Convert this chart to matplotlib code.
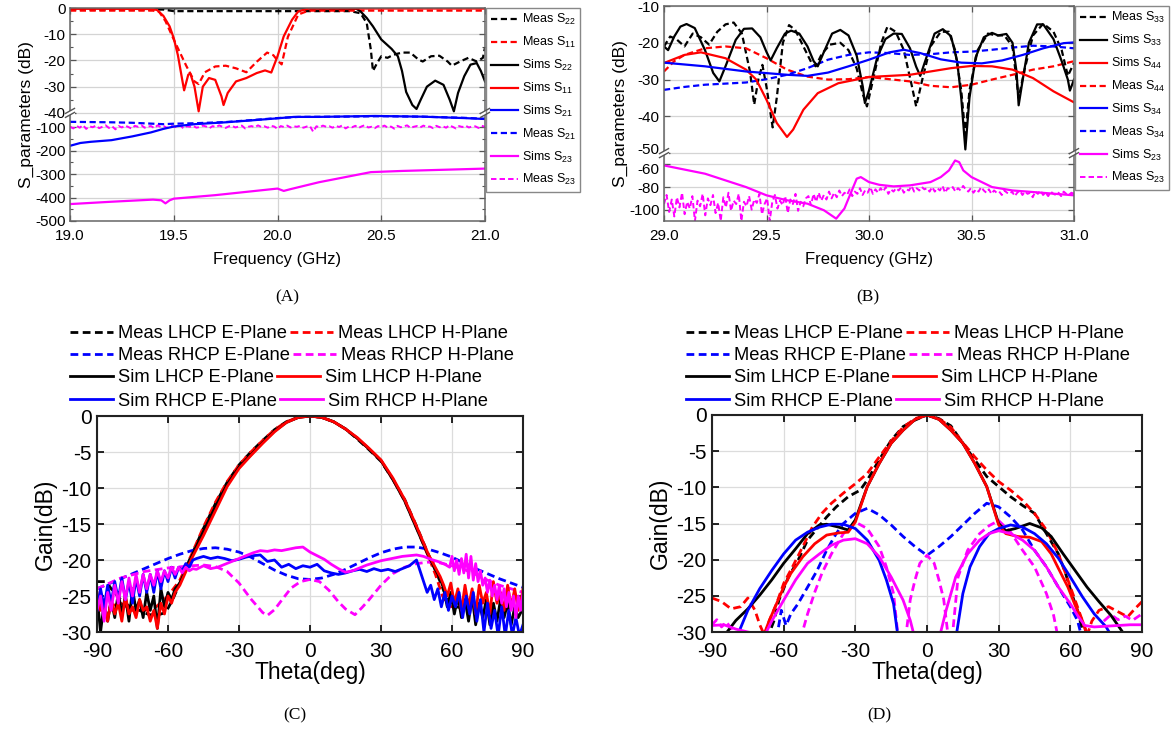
import numpy as np
import matplotlib
matplotlib.use('Agg')
import matplotlib.pyplot as plt
from matplotlib.patches import Rectangle
from matplotlib.ticker import FixedLocator, FormatStrFormatter
from matplotlib.transforms import ScaledTranslation

plt.rcParams['font.family'] = ['Liberation Sans', 'DejaVu Sans']
plt.rcParams['mathtext.fontset'] = 'custom'
plt.rcParams['mathtext.rm'] = 'Liberation Sans'
plt.rcParams['mathtext.it'] = 'Liberation Sans:italic'
plt.rcParams['mathtext.bf'] = 'Liberation Sans:bold'
plt.rcParams['axes.unicode_minus'] = False

# ---------------- Panel A data ----------------
A_XTICKS = [19.0, 19.5, 20.0, 20.5, 21.0]
A_YTICKS = [0, -10, -20, -30, -40, -100, -200, -300, -400, -500]
A_S22_MEAS_F = [19.0, 19.45, 19.5, 20.0, 20.35, 20.4, 20.43, 20.45, 20.46, 20.48, 20.5, 20.53, 20.56, 20.6,
                20.64, 20.68, 20.7, 20.74, 20.78, 20.82, 20.84, 20.88, 20.92, 20.96, 20.99, 21.0]
A_S22_MEAS = [-0.6, -0.6, -1.2, -1.2, -1.2, -2, -5.7, -16, -24, -21, -18.4, -19, -17.8, -17,
              -17, -19.7, -20.4, -18.4, -18.2, -20.4, -22, -20.4, -19, -20.4, -19, -15]
A_S11_MEAS_F = [19.0, 19.2, 19.4, 19.43, 19.46, 19.5, 19.53, 19.56, 19.6, 19.62, 19.65, 19.7, 19.75, 19.8,
                19.85, 19.9, 19.95, 19.98, 20.0, 20.02, 20.05, 20.1, 20.15, 20.5, 21.0]
A_S11_MEAS = [-1, -1, -1, -1.5, -5, -12, -17, -22, -28, -29, -24.5, -22.3, -22, -23,
              -24.5, -20.5, -17, -18, -20, -21.5, -11, -2.5, -1, -1, -1]
A_S22_SIM_F = [19.0, 19.5, 20.0, 20.38, 20.4, 20.43, 20.46, 20.5, 20.55, 20.58, 20.6, 20.62, 20.65, 20.67,
               20.69, 20.72, 20.76, 20.8, 20.83, 20.85, 20.87, 20.9, 20.93, 20.96, 20.98, 21.0]
A_S22_SIM = [-0.1, -0.1, -0.1, -0.3, -1.3, -3.8, -7, -12, -15.6, -18.4, -24, -32, -37, -38.5,
             -35, -30, -27.7, -29.3, -35, -39.4, -32.4, -26, -21.6, -21, -24, -28]
A_S11_SIM_F = [19.0, 19.2, 19.4, 19.42, 19.45, 19.48, 19.5, 19.52, 19.54, 19.55, 19.57, 19.58, 19.6, 19.62,
               19.64, 19.67, 19.7, 19.73, 19.74, 19.76, 19.8, 19.85, 19.9, 19.94, 19.97, 20.0, 20.03, 20.07,
               20.1, 20.15, 20.5, 21.0]
A_S11_SIM = [-0.3, -0.3, -0.4, -0.8, -3, -7, -11.5, -18, -27, -31.4, -25.4, -25, -30, -39.4,
             -30, -26.7, -27.4, -33.7, -37, -32.4, -28, -26.7, -24.8, -23.8, -24.6, -18.4, -10.8, -4.5,
             -1.3, -0.2, -0.2, -0.2]
A_S21_SIM_F = [19.0, 19.05, 19.1, 19.2, 19.3, 19.39, 19.45, 19.5, 19.6, 19.75, 19.9, 20.0, 20.08, 20.2,
               20.47, 20.7, 20.9, 21.0]
A_S21_SIM = [-180, -168, -163, -156, -140, -123, -108, -98, -88, -80, -70, -63, -57, -57,
             -53, -56, -62, -66]
A_S21_MEAS_F = [19.0, 19.1, 19.2, 19.3, 19.4, 19.45, 19.5, 19.6, 19.75, 19.9, 20.0, 20.1, 20.3, 20.5,
                20.7, 20.9, 21.0]
A_S21_MEAS = [-78, -79, -80, -82, -86, -88, -86, -84, -79, -69, -62, -57, -56, -54, -56, -61, -65]
A_S23_SIM_F = [19.0, 19.2, 19.4, 19.44, 19.46, 19.48, 19.5, 19.7, 20.0, 20.03, 20.06, 20.2, 20.45, 20.6, 21.0]
A_S23_SIM = [-428, -418, -409, -412, -425, -412, -405, -390, -362, -372, -365, -335, -292, -287, -277]
A_S23_MEAS = [-98, -106, -95, -103, -92, -108, -97, -101, -94, -105, -99, -93, -104, -97, -110, -96,
              -102, -94, -100, -107, -95, -99, -92, -103, -98, -96, -105, -93, -100, -97, -104, -95,
              -98, -101, -93, -106, -97, -99, -95, -103, -100, -94, -98, -105, -96, -101, -93, -99,
              -104, -97, -95, -102, -98, -94, -106, -99, -96, -101, -93, -100, -97, -103, -95, -98,
              -108, -96, -100, -94, -102, -97, -99, -95, -103, -98, -96, -120, -97, -101, -94, -99, -97,
              -103, -95, -100, -93, -106, -98, -101, -95, -104, -97, -92, -102, -99, -105, -96, -100,
              -94, -103, -98, -107, -95, -101, -97, -93, -104, -99, -96, -102, -94, -100, -98, -105,
              -95, -101, -97, -103, -93, -99, -106, -96, -100, -94, -102, -98, -97, -104, -95, -99]

# ---------------- Panel B data ----------------
B_XTICKS = [29.0, 29.5, 30.0, 30.5, 31.0]
B_YTICKS = [-10, -20, -30, -40, -50, -60, -80, -100]
B_S33_MEAS_F = [29.0, 29.03, 29.06, 29.1, 29.14, 29.18, 29.22, 29.26, 29.3, 29.34, 29.38, 29.42, 29.44, 29.46,
                29.48, 29.5, 29.53, 29.55, 29.58, 29.61, 29.64, 29.68, 29.72, 29.74, 29.77, 29.81, 29.86, 29.9,
                29.94, 29.97, 29.99, 30.02, 30.06, 30.09, 30.13, 30.17, 30.21, 30.23, 30.26, 30.3, 30.35, 30.39,
                30.42, 30.45, 30.47, 30.49, 30.53, 30.58, 30.62, 30.66, 30.7, 30.73, 30.76, 30.8, 30.85, 30.9,
                30.94, 30.97, 31.0]
B_S33_MEAS = [-21, -18.3, -19, -21, -17.5, -18.5, -20.5, -17, -15, -14.5, -17.5, -28, -36.8, -30,
              -26, -32, -43, -35, -20, -15.2, -16.5, -21, -25.5, -26.4, -23, -20.5, -20, -22,
              -27, -34, -37.3, -30, -20, -15.6, -17, -22, -32, -37.3, -30, -21, -17, -17,
              -22, -33, -45, -33, -22, -17.5, -18, -18, -21, -35, -27, -18, -14.8, -17,
              -22, -29, -25.5]
B_S33_SIM_F = [29.0, 29.02, 29.05, 29.08, 29.11, 29.15, 29.2, 29.24, 29.27, 29.3, 29.35, 29.39, 29.43, 29.47,
               29.5, 29.52, 29.55, 29.59, 29.62, 29.66, 29.7, 29.73, 29.75, 29.78, 29.82, 29.86, 29.9, 29.94,
               29.97, 29.98, 30.0, 30.04, 30.08, 30.12, 30.16, 30.2, 30.23, 30.25, 30.28, 30.32, 30.36, 30.4,
               30.43, 30.45, 30.47, 30.49, 30.52, 30.56, 30.6, 30.63, 30.67, 30.7, 30.72, 30.73, 30.75, 30.78,
               30.82, 30.85, 30.9, 30.94, 30.97, 30.98, 31.0]
B_S33_SIM = [-21, -22, -18.3, -15.6, -14.9, -16, -22, -28.2, -30.5, -26.4, -19.2, -16.2, -16.1, -18.5,
             -22.5, -24.8, -21.5, -17.5, -16.7, -17.5, -21, -25, -26.4, -22.5, -17.5, -16.5, -18, -23.5,
             -32, -36.4, -33, -24, -19, -17.5, -17.6, -21.5, -26.5, -29, -24, -17.5, -16.3, -18.2,
             -25, -35, -49, -35, -24, -18.5, -17.3, -18, -17.6, -20, -28, -37, -30, -20,
             -15, -15, -19, -25, -30, -33, -30]
B_S44_SIM_F = [29.0, 29.1, 29.18, 29.3, 29.4, 29.45, 29.5, 29.55, 29.6, 29.63, 29.68, 29.75, 29.85, 30.0,
               30.2, 30.3, 30.4, 30.5, 30.6, 30.7, 30.8, 30.9, 31.0]
B_S44_SIM = [-25.5, -23.3, -22.6, -24.2, -27.3, -30, -35.5, -41.8, -45.6, -43.6, -38.2, -33.7, -31, -29.3,
             -28.7, -27.8, -26.9, -26.3, -26.4, -27.3, -29.6, -33.2, -36.2]
B_S44_MEAS_F = [29.0, 29.05, 29.1, 29.2, 29.3, 29.4, 29.5, 29.6, 29.7, 29.8, 29.9, 30.0, 30.1, 30.2,
                30.3, 30.4, 30.5, 30.6, 30.7, 30.8, 30.9, 31.0]
B_S44_MEAS = [-27.8, -25, -23.3, -21.5, -21, -21.5, -24.2, -27.3, -29.2, -30, -29.9, -29.3, -29.9, -30.5,
              -31.7, -32.1, -31.4, -30, -28.7, -27.3, -26.4, -25]
B_S34_SIM_F = [29.0, 29.2, 29.4, 29.6, 29.7, 29.8, 29.9, 30.0, 30.1, 30.17, 30.25, 30.35, 30.45, 30.55,
               30.65, 30.75, 30.85, 30.95, 31.0]
B_S34_SIM = [-25.4, -26.4, -27.8, -28.7, -29, -28.1, -26.4, -24.6, -22.6, -21.9, -22.8, -24.5, -25.4, -25.6,
             -24.8, -23.3, -21.5, -20.1, -19.9]
B_S34_MEAS_F = [29.0, 29.1, 29.2, 29.3, 29.4, 29.5, 29.6, 29.7, 29.8, 29.9, 30.0, 30.1, 30.2, 30.3,
                30.4, 30.5, 30.6, 30.7, 30.8, 30.9, 31.0]
B_S34_MEAS = [-32.8, -32, -31.4, -31.1, -30.8, -29.9, -28.7, -26.9, -24.6, -23.3, -22.6, -22.8, -23.3, -23.1,
              -22.6, -22.4, -21.9, -21.3, -20.8, -21, -21.5]
B_S23_SIM_F = [29.0, 29.2, 29.4, 29.5, 29.6, 29.7, 29.78, 29.84, 29.88, 29.91, 29.94, 29.96, 30.0, 30.05,
               30.12, 30.2, 30.3, 30.35, 30.39, 30.41, 30.42, 30.44, 30.46, 30.5, 30.55, 30.6, 30.7, 30.8, 31.0]
B_S23_SIM = [-60.9, -68.2, -80, -87.3, -91.7, -94.7, -100.5, -107.9, -99, -85.8, -72.6, -71.2, -75.6, -78,
             -79.4, -78.5, -75.6, -71.2, -65.3, -59.4, -56.5, -58, -65.3, -71.2, -75.6, -80, -83, -84.4, -87.3]
B_S23_MEAS = [-95, -87, -102, -91, -106, -89, -98, -85, -104, -93, -99, -88, -110, -92, -97, -86, -105, -90,
              -96, -87, -103, -94, -110, -89, -98, -85, -101, -92, -95, -86, -110, -93, -97, -88, -100, -91,
              -94, -86, -104, -95, -90, -110, -93, -87, -99, -92, -96, -88, -103, -91, -95, -86, -101, -93,
              -97, -90,
              -88, -96, -86, -93, -85, -92, -87, -91, -84, -90, -85, -89, -83, -88, -85, -87, -82, -88, -84,
              -86, -81, -87, -83, -85, -80, -86, -82, -85, -81, -84, -80, -86, -82, -84, -81, -83, -80, -85,
              -82, -83, -79, -84, -81, -83, -80, -82, -81, -84,
              -80, -84, -81, -83, -79, -85, -81, -82, -80, -84, -81, -83, -79, -82, -84, -81, -85, -82, -84,
              -80, -83, -85, -82, -86, -83, -85, -84, -87, -83, -85, -86, -84, -88, -85, -83, -87, -84, -86,
              -85, -89, -84, -86, -83, -87, -85, -88, -84, -86, -87, -85, -88, -84, -86, -87, -85, -86]

# ---------------- Panel C data ----------------
TH_TICKS = [-90, -60, -30, 0, 30, 60, 90]
G_TICKS = [0, -5, -10, -15, -20, -25, -30]
C_MLE_TH = [-90, -86, -84, -80, -76, -72, -68, -64, -61, -58, -55, -52, -50, -45, -40, -35, -30, -25, -20, -15,
            -10, -5, 0, 5, 10, 15, 20, 25, 30, 35, 40, 45, 50, 55, 58, 61, 64, 66]
C_MLE = [-23, -23, -24, -25.5, -26.5, -27, -27.6, -27.6, -27.3, -25.5, -23.2, -20.8, -19.3, -15.6, -12.2, -9.2,
         -6.8, -5.0, -3.4, -1.9, -0.8, -0.2, 0, -0.2, -0.8, -1.8, -3.2, -4.7, -6.3, -8.8, -11.6, -15.3, -19.2,
         -23, -25.5, -26.5, -26.6, -26.5]
C_MLH_TH = [-90, -85, -80, -75, -70, -65, -60, -55, -50, -45, -40, -35, -30, -25, -20, -15, -10, -5,
            0, 5, 10, 15, 20, 25, 30, 35, 40, 45, 50, 53, 56, 58, 60, 62]
C_MLH = [-26, -26.5, -26, -27, -27, -26.5, -25, -22.8, -19.2, -15.4, -12.0, -9.1, -6.8, -5.0, -3.4, -1.9, -0.8,
         -0.2, 0, -0.2, -0.8, -1.8, -3.1, -4.6, -6.2, -8.8, -11.8, -15.5, -19.5, -22, -25, -26.3, -26.5, -26.2]
C_MRE_TH = np.arange(-90, 91, 5)
C_MRE = [-24.0, -23.3, -22.6, -21.9, -21.2, -20.5, -19.8, -19.2, -18.7, -18.4, -18.3, -18.5, -18.9, -19.6,
         -20.5, -21.4, -22.1, -22.6, -22.7, -22.5, -22.0, -21.3, -20.5, -19.7, -19.0, -18.5, -18.2, -18.2,
         -18.5, -19.0, -19.6, -20.4, -21.2, -21.9, -22.6, -23.2, -23.8]
C_MRH_TH = [-90, -80, -70, -60, -50, -45, -40, -35, -30, -25, -20, -18, -15, -12, -8, -4, 0, 4, 8, 12,
            15, 19, 22, 25, 30, 35, 40, 45, 50, 55, 60, 65, 70, 75, 80, 85, 90]
C_MRH = [-24, -22.5, -21.6, -21.1, -20.8, -20.7, -20.9, -21.6, -23.2, -25.4, -27.3, -27.7, -26.9, -25.6,
         -23.9, -23.0, -22.7, -23.0, -24.2, -25.8, -26.8, -27.6, -26.6, -25.5, -23.5, -21.9, -21.0, -20.5,
         -20.3, -20.4, -20.8, -21.3, -22, -22.8, -23.5, -24, -24.5]
C_SL_TH = np.r_[np.arange(-90, -56.9, 1.5), [-55], np.arange(-50, 56, 5), np.arange(56.5, 89.6, 1.5), [90]]
C_SLE = [-25, -30, -26, -28.5, -25.5, -28, -24.5, -27.5, -25, -28.5, -24, -27, -25.5, -28, -24.5, -27, -25,
         -29.5, -24, -26.5, -24.5, -25.5, -24, -23.2,
         -19.5, -16, -12.6, -9.5, -7.1, -5.4, -3.7, -2.1, -0.9, -0.2, 0, -0.2, -0.8, -1.8, -3.1, -4.6, -6.2,
         -8.8, -11.8, -15.6, -19.4, -22.6,
         -24, -26.5, -24.5, -27.5, -25, -28, -25.5, -28.5, -25, -29, -26, -28, -25.5, -29, -26, -28.5,
         -25.5, -28, -26, -29, -26.5, -28, -27, -25]
C_SLH = [-24.5, -27, -26, -28.5, -25.5, -27.5, -26, -28.5, -25, -27.5, -26.5, -28, -25.5, -27, -26.5, -28.5,
         -27, -29.5, -26, -27.5, -25, -26, -24.5, -23.5,
         -19.8, -16.6, -13.2, -9.8, -7.3, -5.5, -3.8, -2.2, -0.9, -0.2, 0, -0.2, -0.8, -1.8, -3.0, -4.5,
         -6.1, -8.6, -11.6, -15.3, -19.2, -22.3,
         -23.5, -25, -23.2, -26, -24, -27, -23.5, -26.5, -24, -27.5, -23.5, -26, -24.5, -27.5, -23, -26,
         -24.5, -27, -23.5, -26.5, -24, -27, -25, -24]
C_SRE_TH = np.r_[np.arange(-90, -47, 1.5), np.arange(-45, 46, 3), np.arange(46.5, 90.1, 1.5)]
C_SRE = [-27, -24, -26.5, -23.5, -26, -23, -25.5, -22.5, -25.5, -23, -26, -22.5, -25, -22, -24.5, -22,
         -24.5, -21.5, -24, -21.5, -23, -21, -22.5, -21, -21.5, -20.5, -21, -20, -19.8,
         -19.5, -19.8, -19.6, -19.8, -20.1, -19.9, -19.6, -19.4, -19.3, -20.2, -20.0, -21.0, -20.6, -21.2,
         -20.8, -21.0, -20.6, -21.5, -21.8, -22.0, -21.8, -21.5, -21.3, -21.6, -21.2, -21.5, -21.3, -21.6,
         -21.2, -20.8, -20.0,
         -21.5, -23, -24.5, -23.5, -25.5, -24, -26.5, -24.5, -27, -25, -26.5, -24.5, -28, -25, -27.5, -24.5,
         -28.5, -25.5, -30, -26, -29.5, -27, -30.5, -26.5, -30.5, -27, -30.5, -28, -30.5, -29]
C_SRH_TH = np.r_[np.arange(-90, -47, 1.5), np.arange(-45, 58, 3), np.arange(59, 90.1, 1)]
C_SRH = [-27, -25, -28.5, -24.5, -27, -23.5, -26, -23, -25.5, -22.5, -25, -22, -24.5, -22, -24, -22, -23.5,
         -21.5, -23, -21.5, -22.5, -21, -22, -21, -21.8, -21, -21.5, -21.2, -21.3,
         -20.8, -21.2, -21.0, -20.6, -20.2, -19.8, -19.4, -19.0, -18.7, -18.8, -18.6, -18.7, -18.5, -18.3,
         -18.2, -18.9, -19.4, -19.9, -20.6, -21.2, -21.7, -21.5, -21.1, -20.7, -20.4, -20.1, -19.9, -19.7,
         -19.5, -19.4, -19.3, -19.5, -19.9, -20.2, -20.6,
         -21.0, -19.5, -21.5, -20, -22, -19.8, -21.8, -19.2, -22.5, -19.5, -22.8, -20.5, -23, -21.5, -23.5,
         -22.5, -24.5, -22.8, -25, -23.5, -25.5, -23.5, -26, -24, -26.5, -24.5, -27, -25, -28, -25, -27, -24.5]

# ---------------- Panel D data ----------------
D_MLE_TH = [-67, -64, -62, -58, -54, -50, -46, -42, -38, -33, -28, -25, -20, -15, -10, -5, 0, 5, 10, 15,
            20, 25, 30, 35, 40, 45, 50, 55, 58, 61, 63, 66]
D_MLE = [-31, -28.4, -25.6, -22.4, -20.1, -17.3, -15.7, -14.1, -12.7, -11.3, -10.4, -9, -6.2, -3.5, -1.6,
         -0.7, 0, -0.5, -1.5, -3.9, -6.2, -8.5, -9.9, -11.3, -12.5, -13.6, -16.4, -19.2, -21.9, -25.1, -27, -31]
D_MLH_TH = [-90, -86, -82, -78, -75, -72, -70, -68, -66, -63, -60, -56, -52, -48, -44, -40, -35, -30, -25,
            -20, -15, -10, -5, 0, 5, 10, 15, 20, 25, 30, 35, 40, 45, 50, 55, 58, 62, 65, 67, 69, 72, 76, 80,
            84, 87, 90]
D_MLH = [-25.3, -25.8, -26.8, -26.5, -25.3, -27, -29, -30.5, -28.4, -26.1, -23.3, -20.8, -18.2, -15.5,
         -13.6, -12.2, -10.8, -9.5, -8.1, -5.8, -3.6, -1.7, -0.5, 0, -0.5, -1.7, -3.8, -5.8, -7.6, -9.2,
         -10.4, -11.8, -13.6, -15.9, -19.2, -21.9, -25.6, -28.4, -30.5, -28.5, -27, -26.5, -27.2, -27.9,
         -26.8, -25.8]
D_MRE_TH = [-63, -61, -59, -57, -54, -50, -46, -42, -38, -35, -30, -25, -20, -15, -10, -5, 0, 5, 10, 15,
            20, 25, 30, 35, 40, 45, 50, 55, 60, 63, 65]
D_MRE = [-31, -27, -29.1, -27.5, -26.1, -23.8, -21.5, -18.7, -16.4, -15, -13.6, -12.9, -13.8, -15.2, -16.8,
         -18.2, -19.4, -18.2, -16.8, -15.2, -13.6, -12.2, -12.7, -14.1, -15.9, -18.7, -21, -23.8, -26.5,
         -28.4, -31]
D_MRH_TH = [-90, -88, -86, -84, -82, -80, np.nan,
            -53, -50, -47, -44, -40, -35, -30, -25, -20, -17, -14, -12, np.nan,
            -9, -7, -5, -3, 0, 3, 5, 7, 9, np.nan,
            10.5, 13, 17, 22, 26, 30, 35, 40, 45, 50, 53, 55, np.nan,
            74, 77, 80, 83, 86, 90]
D_MRH = [-29, -28.3, -29.3, -28.6, -29.5, -31, np.nan,
         -31, -27.5, -24.5, -21.9, -19.2, -16.4, -14.8, -15.7, -18.2, -21, -24.7, -31, np.nan,
         -31, -25.5, -22.8, -20.5, -19.4, -20.5, -22.8, -25.5, -31, np.nan,
         -31, -22.4, -18.7, -16.4, -15.3, -14.6, -16.2, -18.7, -21, -24.7, -27.7, -31, np.nan,
         -28.5, -27.6, -28.3, -27.8, -28.4, -27.5]
D_SLE_TH = [-86, -80, -75, -70, -65, -60, -55, -50, -45, -42, -37, -33, -30, -25, -20, -15, -10, -5, 0, 5,
            10, 15, 20, 25, 30, 33, 37, 43, 48, 52, 57, 62, 67, 72, 77, 84]
D_SLE = [-31, -28.4, -26.8, -24.9, -22.8, -20.5, -18.5, -16.4, -15.2, -15.1, -15.5, -15.9, -14.5, -9.9,
         -6.7, -3.9, -2.1, -0.6, 0, -0.6, -2.1, -3.9, -6.7, -9.9, -15, -16, -15.7, -15, -15.6, -16.8, -19.2,
         -21.5, -23.8, -25.8, -27.7, -31]
D_SLH_TH = [-69, -66, -63, -60, -57, -52, -47, -42, -37, -33, -30, -25, -20, -15, -10, -5, 0, 5, 10, 15,
            20, 25, 30, 33, 38, 43, 48, 52, 55, 59, 62, 65, 68]
D_SLH = [-31, -28.4, -26.1, -23.8, -21.9, -19.6, -17.8, -16.6, -16.3, -16.2, -14.8, -9.9, -6.7, -3.9, -2.1,
         -0.6, 0, -0.6, -2.1, -3.9, -6.7, -9.9, -15.2, -16.4, -16.8, -16.9, -17.5, -19.2, -21.2, -23.8,
         -26.3, -28.4, -31]
D_SRE_TH = [-80, -75, -70, -65, -60, -55, -50, -45, -40, -35, -30, -25, -20, -17, -14, -12, np.nan,
            12, 15, 18, 22, 26, 30, 35, 40, 45, 50, 55, 60, 65, 70, 75, 78]
D_SRE = [-31, -27, -24, -21.5, -19.2, -17.3, -16.2, -15.5, -15.1, -15.1, -15.7, -17.3, -20.1, -22.8, -26.1,
         -31, np.nan,
         -31, -24.7, -21, -18.2, -16.4, -15.7, -15.2, -15.5, -16.4, -17.8, -19.8, -22.4, -25.1, -27.5,
         -29.3, -31]
D_SRH_TH = [-90, -85, -80, -75, -72, -68, -65, -60, -55, -50, -45, -40, -35, -30, -25, -20, -15, -10, -7,
            -5, np.nan,
            5, 8, 12, 17, 22, 26, 30, 35, 40, 45, 50, 55, 60, 63, 66, 70, 75, 80, 85, 90]
D_SRH = [-29.1, -29, -29.6, -30, -30.2, -30.5, -28.5, -25.6, -22.8, -20.5, -19.2, -18, -17.3, -17.1, -17.8,
         -19.6, -22.4, -25.6, -28.4, -31, np.nan,
         -31, -27, -22.4, -19.2, -17.3, -16.4, -16, -16.4, -17.3, -18.7, -21, -23.8, -26.1, -27.7, -29.1,
         -29.3, -29.2, -29.1, -29, -29]

LEG_ROWS = [["Meas LHCP E-Plane", "Meas LHCP H-Plane"],
            ["Meas RHCP E-Plane", "Meas RHCP H-Plane"],
            ["Sim LHCP E-Plane", "Sim LHCP H-Plane"],
            ["Sim RHCP E-Plane", "Sim RHCP H-Plane"]]

# ---------------- drawing ----------------
W, H = 1172, 733
fig = plt.figure(figsize=(W / 100, H / 100), dpi=100)

BLK, RED, BLU, MAG = '#000000', '#ff0000', '#0000ff', '#ff00ff'
DASH = (2.8, 1.6)


def px_axes(l, t, r, b):
    return fig.add_axes([l / W, 1 - b / H, (r - l) / W, (b - t) / H])


def pl(ax, x, y, color, dashed, lw, label=None):
    x = np.asarray(x, float)
    y = np.asarray(y, float)
    n = min(len(x), len(y))
    kw = dict(color=color, lw=lw, label=label, solid_joinstyle='round')
    if dashed:
        ln, = ax.plot(x[:n], y[:n], ls='--', dashes=DASH, **kw)
    else:
        ln, = ax.plot(x[:n], y[:n], **kw)
    return ln


def make_break_scale(brk, k):
    def fwd(y):
        y = np.asarray(y, float)
        return np.where(y >= brk, y, brk + (y - brk) * k)

    def inv(u):
        u = np.asarray(u, float)
        return np.where(u >= brk, u, brk + (u - brk) / k)
    return fwd, inv


def break_marks(ax, frac, wpx, hpx):
    dx, dy = 4.5 / wpx, 2.5 / hpx
    gap = 2.0 / hpx
    for xa in (0, 1):
        ax.add_patch(Rectangle((xa - dx, frac - gap), 2 * dx, 2 * gap, transform=ax.transAxes,
                               facecolor='white', edgecolor='none', clip_on=False, zorder=5))
        for off in (-gap, gap):
            ax.plot([xa - dx, xa + dx], [frac + off - dy, frac + off + dy], transform=ax.transAxes,
                    color='#555555', lw=1.0, clip_on=False, zorder=6)


def style_sparam(ax):
    ax.grid(True, color='#d4d4d4', lw=0.9)
    ax.set_axisbelow(True)
    ax.tick_params(direction='in', top=True, right=True, length=4, width=0.9, color='#555555',
                   labelsize=11, labelcolor='black', pad=3)
    ax.tick_params(axis='x', pad=6)
    ax.tick_params(which='minor', direction='in', right=True, length=2.5, width=0.8, color='#555555')
    for s in ax.spines.values():
        s.set_color('#666666')
        s.set_linewidth(1.1)


LEG_KW = dict(loc='upper left', bbox_to_anchor=(1.003, 1.0), borderaxespad=0, fancybox=False,
              edgecolor='#888888', fontsize=9.0, handlelength=2.2, handletextpad=0.3,
              labelspacing=0.62, borderpad=0.35, framealpha=1)

# ---------- Panel A ----------
axA = px_axes(70, 8, 485, 221)
fA, iA = make_break_scale(-40, 0.0896)
axA.set_yscale('function', functions=(fA, iA))
LW1 = 1.6
hA = [
    pl(axA, A_S22_MEAS_F, A_S22_MEAS, BLK, True, LW1, 'Meas S$_{22}$'),
    pl(axA, A_S11_MEAS_F, A_S11_MEAS, RED, True, LW1, 'Meas S$_{11}$'),
    pl(axA, A_S22_SIM_F, A_S22_SIM, BLK, False, LW1, 'Sims S$_{22}$'),
    pl(axA, A_S11_SIM_F, A_S11_SIM, RED, False, LW1, 'Sims S$_{11}$'),
]
h21m = pl(axA, A_S21_MEAS_F, A_S21_MEAS, BLU, True, LW1, 'Meas S$_{21}$')
h23m = pl(axA, np.linspace(19.0, 21.0, len(A_S23_MEAS)), A_S23_MEAS, MAG, True, 1.4, 'Meas S$_{23}$')
h21s = pl(axA, A_S21_SIM_F, A_S21_SIM, BLU, False, LW1, 'Sims S$_{21}$')
h23s = pl(axA, A_S23_SIM_F, A_S23_SIM, MAG, False, LW1, 'Sims S$_{23}$')
hA += [h21s, h21m, h23s, h23m]
axA.set_xlim(19.0, 21.0)
axA.set_ylim(-500, 0)
axA.xaxis.set_major_locator(FixedLocator(A_XTICKS))
axA.xaxis.set_major_formatter(FormatStrFormatter('%.1f'))
axA.yaxis.set_major_locator(FixedLocator(A_YTICKS))
axA.yaxis.set_major_formatter(FormatStrFormatter('%d'))
axA.yaxis.set_minor_locator(FixedLocator([-5, -15, -25, -35, -150, -250, -350, -450]))
style_sparam(axA)
axA.set_xlabel('Frequency (GHz)', fontsize=12, labelpad=6)
axA.set_ylabel('S_parameters (dB)', fontsize=12.5, labelpad=1)
fracA = (fA(-40) - fA(-500)) / (fA(0) - fA(-500))
break_marks(axA, float(fracA), 415, 213)
legA = axA.legend(handles=hA, **LEG_KW)
legA.get_frame().set_linewidth(1.0)

# ---------- Panel B ----------
axB = px_axes(664, 6, 1074, 221)
fB, iB = make_break_scale(-50, 0.3076)
axB.set_yscale('function', functions=(fB, iB))
b33m = pl(axB, B_S33_MEAS_F, B_S33_MEAS, BLK, True, LW1, 'Meas S$_{33}$')
b44m = pl(axB, B_S44_MEAS_F, B_S44_MEAS, RED, True, LW1, 'Meas S$_{44}$')
b34m = pl(axB, B_S34_MEAS_F, B_S34_MEAS, BLU, True, LW1, 'Meas S$_{34}$')
b23m = pl(axB, np.linspace(29.0, 31.0, len(B_S23_MEAS)), B_S23_MEAS, MAG, True, 1.4, 'Meas S$_{23}$')
b33s = pl(axB, B_S33_SIM_F, B_S33_SIM, BLK, False, LW1, 'Sims S$_{33}$')
b44s = pl(axB, B_S44_SIM_F, B_S44_SIM, RED, False, LW1, 'Sims S$_{44}$')
b34s = pl(axB, B_S34_SIM_F, B_S34_SIM, BLU, False, LW1, 'Sims S$_{34}$')
b23s = pl(axB, B_S23_SIM_F, B_S23_SIM, MAG, False, LW1, 'Sims S$_{23}$')
hB = [b33m, b33s, b44s, b44m, b34s, b34m, b23s, b23m]
axB.set_xlim(29.0, 31.0)
axB.set_ylim(-110, -10)
axB.xaxis.set_major_locator(FixedLocator(B_XTICKS))
axB.xaxis.set_major_formatter(FormatStrFormatter('%.1f'))
axB.yaxis.set_major_locator(FixedLocator(B_YTICKS))
axB.yaxis.set_major_formatter(FormatStrFormatter('%d'))
style_sparam(axB)
axB.set_xlabel('Frequency (GHz)', fontsize=12, labelpad=6)
axB.set_ylabel('S_parameters (dB)', fontsize=12.5, labelpad=1)
fracB = (fB(-50) - fB(-110)) / (fB(-10) - fB(-110))
break_marks(axB, float(fracB), 410, 215)
legB = axB.legend(handles=hB, **LEG_KW)
legB.get_frame().set_linewidth(1.0)
# nudge the two crowded labels beside the axis break apart a little
for tk, val in zip(axB.yaxis.get_major_ticks(), B_YTICKS):
    if val == -50:
        tk.label1.set_transform(tk.label1.get_transform() + ScaledTranslation(0, 3 / 72, fig.dpi_scale_trans))
    elif val == -60:
        tk.label1.set_transform(tk.label1.get_transform() + ScaledTranslation(0, -3 / 72, fig.dpi_scale_trans))


# ---------- Panels C & D ----------
def style_pattern(ax):
    ax.set_xlim(-90, 90)
    ax.set_ylim(-30, 0)
    ax.xaxis.set_major_locator(FixedLocator(TH_TICKS))
    ax.yaxis.set_major_locator(FixedLocator(G_TICKS))
    ax.grid(True, color='#dcdcdc', lw=0.9)
    ax.set_axisbelow(True)
    ax.tick_params(direction='in', top=True, right=True, length=5, width=1.2, labelsize=15, pad=4)
    ax.tick_params(axis='x', pad=7)
    for s in ax.spines.values():
        s.set_color('#222222')
        s.set_linewidth(1.5)
    ax.set_xlabel('Theta(deg)', fontsize=16.5, labelpad=0)
    ax.set_ylabel('Gain(dB)', fontsize=16.5, labelpad=3)


def row_legends(handles, x_px):
    ys = [334, 356, 378, 401]
    for r in range(4):
        hh = handles[2 * r:2 * r + 2]
        fig.legend(handles=hh, labels=LEG_ROWS[r], ncol=2, loc='center left',
                   bbox_to_anchor=(x_px / W, 1 - ys[r] / H), frameon=False, fontsize=13.2,
                   handlelength=2.35, handletextpad=0.25, columnspacing=0.2, borderpad=0,
                   borderaxespad=0)


LW2 = 2.0
axC = px_axes(97, 416, 523, 632)
c_mle = pl(axC, C_MLE_TH, C_MLE, BLK, True, LW2)
c_mlh = pl(axC, C_MLH_TH, C_MLH, RED, True, LW2)
c_mre = pl(axC, C_MRE_TH, C_MRE, BLU, True, LW2)
c_mrh = pl(axC, C_MRH_TH, C_MRH, MAG, True, LW2)
c_sle = pl(axC, C_SL_TH, C_SLE, BLK, False, LW2)
c_slh = pl(axC, C_SL_TH, C_SLH, RED, False, LW2)
c_sre = pl(axC, C_SRE_TH, C_SRE, BLU, False, LW2)
c_srh = pl(axC, C_SRH_TH, C_SRH, MAG, False, LW2)
style_pattern(axC)
row_legends([c_mle, c_mlh, c_mre, c_mrh, c_sle, c_slh, c_sre, c_srh], 70)

axD = px_axes(712, 415, 1142, 632)
d_mle = pl(axD, D_MLE_TH, D_MLE, BLK, True, LW2)
d_mlh = pl(axD, D_MLH_TH, D_MLH, RED, True, LW2)
d_mre = pl(axD, D_MRE_TH, D_MRE, BLU, True, LW2)
d_mrh = pl(axD, D_MRH_TH, D_MRH, MAG, True, LW2)
d_sle = pl(axD, D_SLE_TH, D_SLE, BLK, False, LW2)
d_slh = pl(axD, D_SLH_TH, D_SLH, RED, False, LW2)
d_sre = pl(axD, D_SRE_TH, D_SRE, BLU, False, LW2)
d_srh = pl(axD, D_SRH_TH, D_SRH, MAG, False, LW2)
style_pattern(axD)
row_legends([d_mle, d_mlh, d_mre, d_mrh, d_sle, d_slh, d_sre, d_srh], 686)

# panel captions
for txt, xp, yp in [('(A)', 287, 297), ('(B)', 868, 297), ('(C)', 295, 715), ('(D)', 879, 715)]:
    fig.text(xp / W, 1 - yp / H, txt, ha='center', va='center', fontsize=12.5,
             family=['Liberation Serif', 'DejaVu Serif'])

fig.savefig('out.png', dpi=100)
